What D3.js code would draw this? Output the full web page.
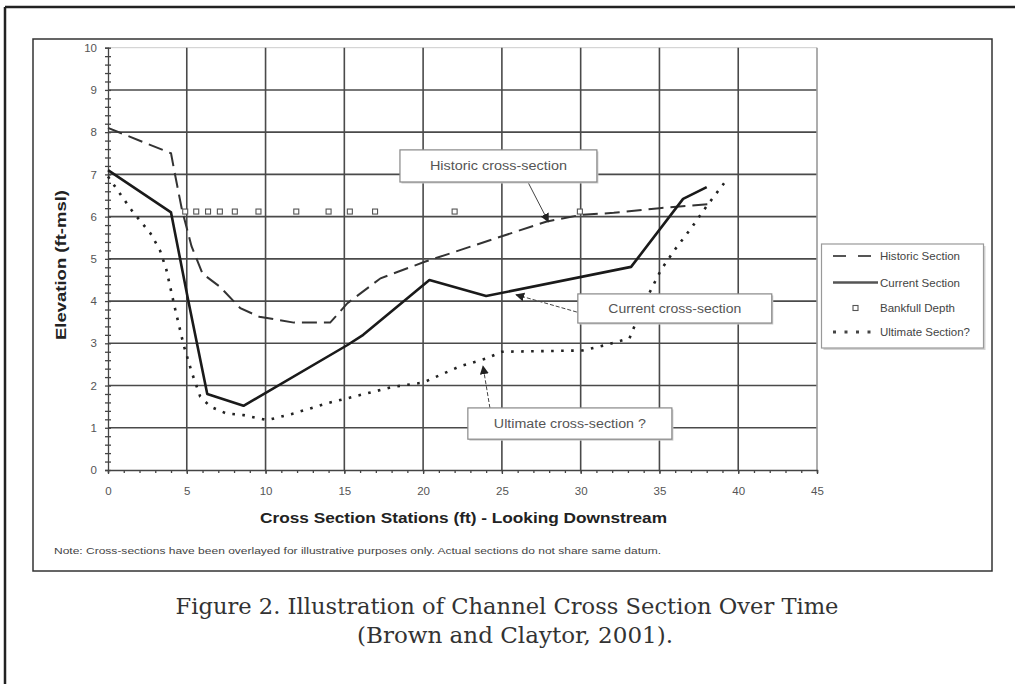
<!DOCTYPE html>
<html><head><meta charset="utf-8">
<script src="https://cdn.jsdelivr.net/npm/d3@7"></script>
<style>body{margin:0;background:#fff}svg{display:block}</style>
</head><body>
<svg id="chart" width="1015" height="684"></svg>
<script>
// ---- data ----
const historicX = [0, 4.0, 4.2, 4.7, 5.3, 6.0, 7.1, 8.4, 9.6, 11.8, 14.1, 15.2, 17.3, 20.1, 27.8, 30.0, 32.1, 35.0, 38.2];
const historicY = [8.1, 7.5, 7.1, 6.15, 5.3, 4.65, 4.34, 3.83, 3.63, 3.49, 3.49, 3.95, 4.54, 4.93, 5.88, 6.04, 6.09, 6.2, 6.3];
const currentX = [0, 4.0, 5.1, 6.3, 8.6, 15.2, 16.2, 20.4, 24.0, 33.2, 36.5, 38.0];
const currentY = [7.1, 6.1, 4.0, 1.8, 1.52, 2.96, 3.2, 4.5, 4.12, 4.81, 6.42, 6.7];
const bankfullX = [4.9, 5.6, 6.35, 7.1, 8.05, 9.55, 11.95, 14.0, 15.35, 16.95, 22.0, 29.95];
const bankfullY = [6.12, 6.12, 6.12, 6.12, 6.12, 6.12, 6.12, 6.12, 6.12, 6.12, 6.12, 6.12];
const ultimateX = [0, 1.5, 2.7, 3.3, 3.7, 4.25, 4.8, 5.3, 5.85, 6.5, 7.5, 8.6, 10.1, 11.8, 13.9, 15.2, 18.1, 20.0, 22.3, 24.0, 25.0, 30.1, 31.6, 33.1, 33.4, 34.4, 35.1, 36.0, 37.0, 38.0, 39.1];
const ultimateY = [6.95, 6.15, 5.6, 5.2, 4.75, 3.83, 2.96, 2.33, 1.74, 1.5, 1.34, 1.3, 1.18, 1.34, 1.58, 1.7, 1.97, 2.07, 2.45, 2.64, 2.8, 2.83, 2.96, 3.12, 3.39, 4.22, 4.74, 5.23, 5.72, 6.25, 6.79];

const xTicks = [0, 5, 10, 15, 20, 25, 30, 35, 40, 45];
const yTicks = [0, 1, 2, 3, 4, 5, 6, 7, 8, 9, 10];
const seriesNames = ["Historic Section", "Current Section", "Bankfull Depth", "Ultimate Section?"];
const calloutLabels = ["Historic cross-section", "Current cross-section", "Ultimate cross-section ?"];
const xTitle = "Cross Section Stations (ft) - Looking Downstream";
const yTitle = "Elevation (ft-msl)";
const noteText = "Note: Cross-sections have been overlayed for illustrative purposes only.  Actual sections do not share same datum.";
const captionLines = ["Figure 2. Illustration of Channel Cross Section Over Time", "(Brown and Claytor, 2001)."];

// ---- layout ----
const svg = d3.select("#chart");
const x = d3.scaleLinear().domain([0, 45]).range([108, 817]);
const y = d3.scaleLinear().domain([0, 10]).range([470, 47.7]);
const sans = "'Liberation Sans', Arial, sans-serif";

// outer page border (left + top)
svg.append("line").attr("x1", 5).attr("y1", 7).attr("x2", 1015).attr("y2", 7).attr("stroke", "#222").attr("stroke-width", 2.5);
svg.append("line").attr("x1", 5).attr("y1", 7).attr("x2", 5).attr("y2", 684).attr("stroke", "#222").attr("stroke-width", 2.5);
// chart frame
svg.append("rect").attr("x", 33).attr("y", 39).attr("width", 959).attr("height", 532)
  .attr("fill", "#fff").attr("stroke", "#333").attr("stroke-width", 1.5);

const defs = svg.append("defs");
defs.append("marker").attr("id", "ah").attr("viewBox", "0 0 10 10").attr("refX", 9).attr("refY", 5)
  .attr("markerWidth", 9).attr("markerHeight", 9).attr("markerUnits", "userSpaceOnUse").attr("orient", "auto")
  .append("path").attr("d", "M0,0 L10,5 L0,10 Z").attr("fill", "#222");

// gridlines
const grid = svg.append("g");
grid.append("line").attr("x1", x(0)).attr("x2", x(45)).attr("y1", y(10)).attr("y2", y(10)).attr("stroke", "#ccc").attr("stroke-width", 1);
grid.selectAll(".hg").data(yTicks.filter(v => v > 0 && v < 10)).join("line")
  .attr("x1", x(0)).attr("x2", x(45)).attr("y1", d => y(d)).attr("y2", d => y(d))
  .attr("stroke", "#4a4a4a").attr("stroke-width", 1.6);
grid.selectAll(".vg").data(xTicks.filter(v => v > 0)).join("line")
  .attr("x1", d => x(d)).attr("x2", d => x(d)).attr("y1", y(10)).attr("y2", y(0))
  .attr("stroke", d => d === 45 ? "#999" : "#4a4a4a").attr("stroke-width", 1.6);

// axes
const minorY = d3.range(0, 50.5, 1).map(i => i / 5).filter(v => v <= 10);
const minorX = d3.range(0, 46, 1);
const axisStyle = g => { g.selectAll("path,line").attr("stroke", "#444").attr("stroke-width", 1.3); };

svg.append("g").attr("transform", `translate(${x(0)},0)`)
  .call(d3.axisLeft(y).tickValues(minorY).tickSize(3).tickFormat(""))
  .call(axisStyle);
svg.append("g").attr("transform", `translate(${x(0)},0)`)
  .call(d3.axisRight(y).tickValues(minorY).tickSize(3).tickFormat(""))
  .call(g => g.select(".domain").remove()).call(axisStyle);
svg.append("g").attr("transform", `translate(${x(0)},0)`)
  .call(d3.axisLeft(y).tickValues(yTicks).tickSize(0).tickPadding(11).tickFormat(d3.format("d")))
  .call(g => g.select(".domain").remove())
  .call(g => g.selectAll("text").attr("font-family", sans).attr("font-size", 11.5).attr("fill", "#555"));

svg.append("g").attr("transform", `translate(0,${y(0)})`)
  .call(d3.axisBottom(x).tickValues(minorX).tickSize(3).tickFormat(""))
  .call(axisStyle);
svg.append("g").attr("transform", `translate(0,${y(0)})`)
  .call(d3.axisBottom(x).tickValues(xTicks).tickSize(4).tickPadding(13).tickFormat(d3.format("d")))
  .call(g => g.select(".domain").remove()).call(axisStyle)
  .call(g => g.selectAll("text").attr("font-family", sans).attr("font-size", 11.5).attr("fill", "#555"));

// series
const line = d3.line().x(d => x(d[0])).y(d => y(d[1]));
const zip = (a, b) => a.map((v, i) => [v, b[i]]);
svg.append("path").datum(zip(historicX, historicY)).attr("d", line)
  .attr("fill", "none").attr("stroke", "#333").attr("stroke-width", 2).attr("stroke-dasharray", "15,7");
svg.append("path").datum(zip(ultimateX, ultimateY)).attr("d", line)
  .attr("fill", "none").attr("stroke", "#222").attr("stroke-width", 2.6).attr("stroke-dasharray", "2.6,7.4");
svg.append("path").datum(zip(currentX, currentY)).attr("d", line)
  .attr("fill", "none").attr("stroke", "#1a1a1a").attr("stroke-width", 2.6).attr("stroke-linejoin", "round");
svg.append("g").selectAll("rect").data(zip(bankfullX, bankfullY)).join("rect")
  .attr("x", d => x(d[0]) - 2.5).attr("y", d => y(d[1]) - 2.5).attr("width", 5).attr("height", 5)
  .attr("fill", "#fff").attr("stroke", "#555").attr("stroke-width", 1.1);

// callouts (boxes in data units, arrows pointing at the curves)
const callouts = [
  {box: [18.53, 7.58, 31.03, 6.82], from: [26.65, 6.82], to: [27.95, 5.88], len: 137},
  {box: [29.82, 4.17, 42.13, 3.48], from: [29.76, 3.74], to: [25.9, 4.15], len: 133},
  {box: [22.84, 1.47, 35.79, 0.73], from: [24.24, 1.47], to: [23.8, 2.46], len: 152}
];
callouts.forEach((c, i) => {
  const g = svg.append("g");
  const bx = x(c.box[0]), by = y(c.box[1]), bw = x(c.box[2]) - x(c.box[0]), bh = y(c.box[3]) - y(c.box[1]);
  g.append("line").attr("x1", x(c.from[0])).attr("y1", y(c.from[1])).attr("x2", x(c.to[0])).attr("y2", y(c.to[1]))
    .attr("stroke", "#444").attr("stroke-width", 1).attr("stroke-dasharray", i === 0 ? null : "4,2").attr("marker-end", "url(#ah)");
  g.append("rect").attr("x", bx + 1.5).attr("y", by + 1.5).attr("width", bw).attr("height", bh).attr("fill", "#ccc");
  g.append("rect").attr("x", bx).attr("y", by).attr("width", bw).attr("height", bh)
    .attr("fill", "#fff").attr("stroke", "#888").attr("stroke-width", 1.2);
  g.append("text").attr("x", bx + bw / 2).attr("y", by + bh / 2 + 4.5).attr("text-anchor", "middle")
    .attr("font-family", sans).attr("font-size", 12.5).attr("fill", "#555")
    .attr("textLength", c.len).attr("lengthAdjust", "spacingAndGlyphs").text(calloutLabels[i]);
});

// legend
const lg = svg.append("g");
lg.append("rect").attr("x", 823.5).attr("y", 246).attr("width", 162).attr("height", 104).attr("fill", "#d4d4d4");
lg.append("rect").attr("x", 821.5).attr("y", 244).attr("width", 162).attr("height", 104)
  .attr("fill", "#fff").attr("stroke", "#999").attr("stroke-width", 1.2);
const legY = [256, 282.5, 308, 332];
const legStyles = [
  {dash: "13,12", w: 2, c: "#555"}, {dash: null, w: 2.5, c: "#555"}, null, {dash: "3,8.5", w: 3, c: "#444"}
];
seriesNames.forEach((n, i) => {
  const st = legStyles[i];
  if (st) {
    lg.append("line").attr("x1", 833).attr("x2", 878).attr("y1", legY[i]).attr("y2", legY[i])
      .attr("stroke", st.c).attr("stroke-width", st.w).attr("stroke-dasharray", st.dash);
  } else {
    lg.append("rect").attr("x", 853).attr("y", legY[i] - 2.5).attr("width", 5).attr("height", 5)
      .attr("fill", "#fff").attr("stroke", "#555").attr("stroke-width", 1.1);
  }
  lg.append("text").attr("x", 880).attr("y", legY[i] + 4).attr("font-family", sans).attr("font-size", 11)
    .attr("fill", "#444").attr("textLength", [80, 80, 75, 90][i]).attr("lengthAdjust", "spacingAndGlyphs").text(n);
});

// axis titles
svg.append("text").attr("x", 463.5).attr("y", 523).attr("text-anchor", "middle")
  .attr("font-family", sans).attr("font-weight", "bold").attr("font-size", 15.5).attr("fill", "#222")
  .attr("textLength", 407).attr("lengthAdjust", "spacingAndGlyphs").text(xTitle);
svg.append("text").attr("transform", "translate(66,265) rotate(-90)").attr("text-anchor", "middle")
  .attr("font-family", sans).attr("font-weight", "bold").attr("font-size", 14.5).attr("fill", "#222")
  .attr("textLength", 150).attr("lengthAdjust", "spacingAndGlyphs").text(yTitle);

// note
svg.append("text").attr("x", 54).attr("y", 554).attr("font-family", sans).attr("font-size", 9).attr("fill", "#444")
  .attr("textLength", 607).attr("lengthAdjust", "spacingAndGlyphs").text(noteText);

// caption
svg.selectAll(".cap").data(captionLines).join("text")
  .attr("x", (d, i) => [507, 515][i]).attr("y", (d, i) => 614 + i * 29).attr("text-anchor", "middle")
  .attr("font-family", "'DejaVu Serif', 'Liberation Serif', serif").attr("font-size", 22).attr("fill", "#333")
  .attr("textLength", (d, i) => [663, 316][i]).attr("lengthAdjust", "spacingAndGlyphs").text(d => d);
</script>
</body></html>
